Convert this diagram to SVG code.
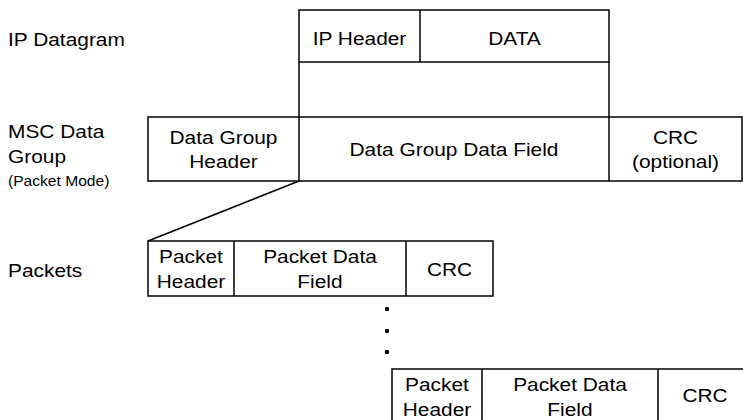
<svg xmlns="http://www.w3.org/2000/svg" width="743" height="420" viewBox="0 0 743 420">
<style>
.box{fill:#fff;stroke:#000;stroke-width:1.5}
.ln{fill:none;stroke:#000;stroke-width:1.5}
.t{font-family:"Liberation Sans",Arial,Helvetica,sans-serif;font-size:18.5px;fill:#000}
.c{text-anchor:middle}
.s{font-size:13.8px}
</style>
<rect width="743" height="420" fill="#fff"/>
<g id="row-labels">
<text class="t" transform="translate(8,46) scale(1.13,1)">IP Datagram</text>
<text class="t" transform="translate(8,137.5) scale(1.13,1)">MSC Data</text>
<text class="t" transform="translate(8,162.5) scale(1.13,1)">Group</text>
<text class="t s" transform="translate(8,186) scale(1.13,1)">(Packet Mode)</text>
<text class="t" transform="translate(8,277) scale(1.13,1)">Packets</text>
</g>
<g id="connectors">
<line class="ln" x1="299" y1="62" x2="299" y2="117"/>
<line class="ln" x1="609" y1="62" x2="609" y2="117"/>
<line class="ln" x1="299" y1="181" x2="148" y2="241"/>
</g>
<g id="ip-datagram">
<rect class="box" x="299" y="10" width="310" height="52"/>
<line class="ln" x1="420" y1="10" x2="420" y2="62"/>
<text class="t c" transform="translate(359.5,44.5) scale(1.13,1)">IP Header</text>
<text class="t c" transform="translate(514.5,44.5) scale(1.13,1)">DATA</text>
</g>
<g id="msc-data-group">
<rect class="box" x="148" y="117" width="594" height="64"/>
<line class="ln" x1="299" y1="117" x2="299" y2="181"/>
<line class="ln" x1="609" y1="117" x2="609" y2="181"/>
<text class="t c" transform="translate(223.5,144) scale(1.13,1)">Data Group</text>
<text class="t c" transform="translate(223.5,167.5) scale(1.13,1)">Header</text>
<text class="t c" transform="translate(454,156) scale(1.13,1)">Data Group Data Field</text>
<text class="t c" transform="translate(675.5,143.5) scale(1.13,1)">CRC</text>
<text class="t c" transform="translate(675.5,167.5) scale(1.13,1)">(optional)</text>
</g>
<g id="packet-1">
<rect class="box" x="148" y="241" width="345" height="55"/>
<line class="ln" x1="234" y1="241" x2="234" y2="296"/>
<line class="ln" x1="406" y1="241" x2="406" y2="296"/>
<text class="t c" transform="translate(191,262.5) scale(1.13,1)">Packet</text>
<text class="t c" transform="translate(191,288) scale(1.13,1)">Header</text>
<text class="t c" transform="translate(320,262.5) scale(1.13,1)">Packet Data</text>
<text class="t c" transform="translate(320,288) scale(1.13,1)">Field</text>
<text class="t c" transform="translate(449.5,276) scale(1.13,1)">CRC</text>
</g>
<g id="ellipsis">
<circle cx="387" cy="309" r="2.2" fill="#000"/>
<circle cx="387" cy="331" r="2.2" fill="#000"/>
<circle cx="387" cy="352" r="2.2" fill="#000"/>
</g>
<g id="packet-2">
<rect class="box" x="392" y="369" width="360" height="55"/>
<line class="ln" x1="482" y1="369" x2="482" y2="424"/>
<line class="ln" x1="658" y1="369" x2="658" y2="424"/>
<text class="t c" transform="translate(437,390.5) scale(1.13,1)">Packet</text>
<text class="t c" transform="translate(437,416) scale(1.13,1)">Header</text>
<text class="t c" transform="translate(570,390.5) scale(1.13,1)">Packet Data</text>
<text class="t c" transform="translate(570,416) scale(1.13,1)">Field</text>
<text class="t c" transform="translate(705,402) scale(1.13,1)">CRC</text>
</g>
</svg>
